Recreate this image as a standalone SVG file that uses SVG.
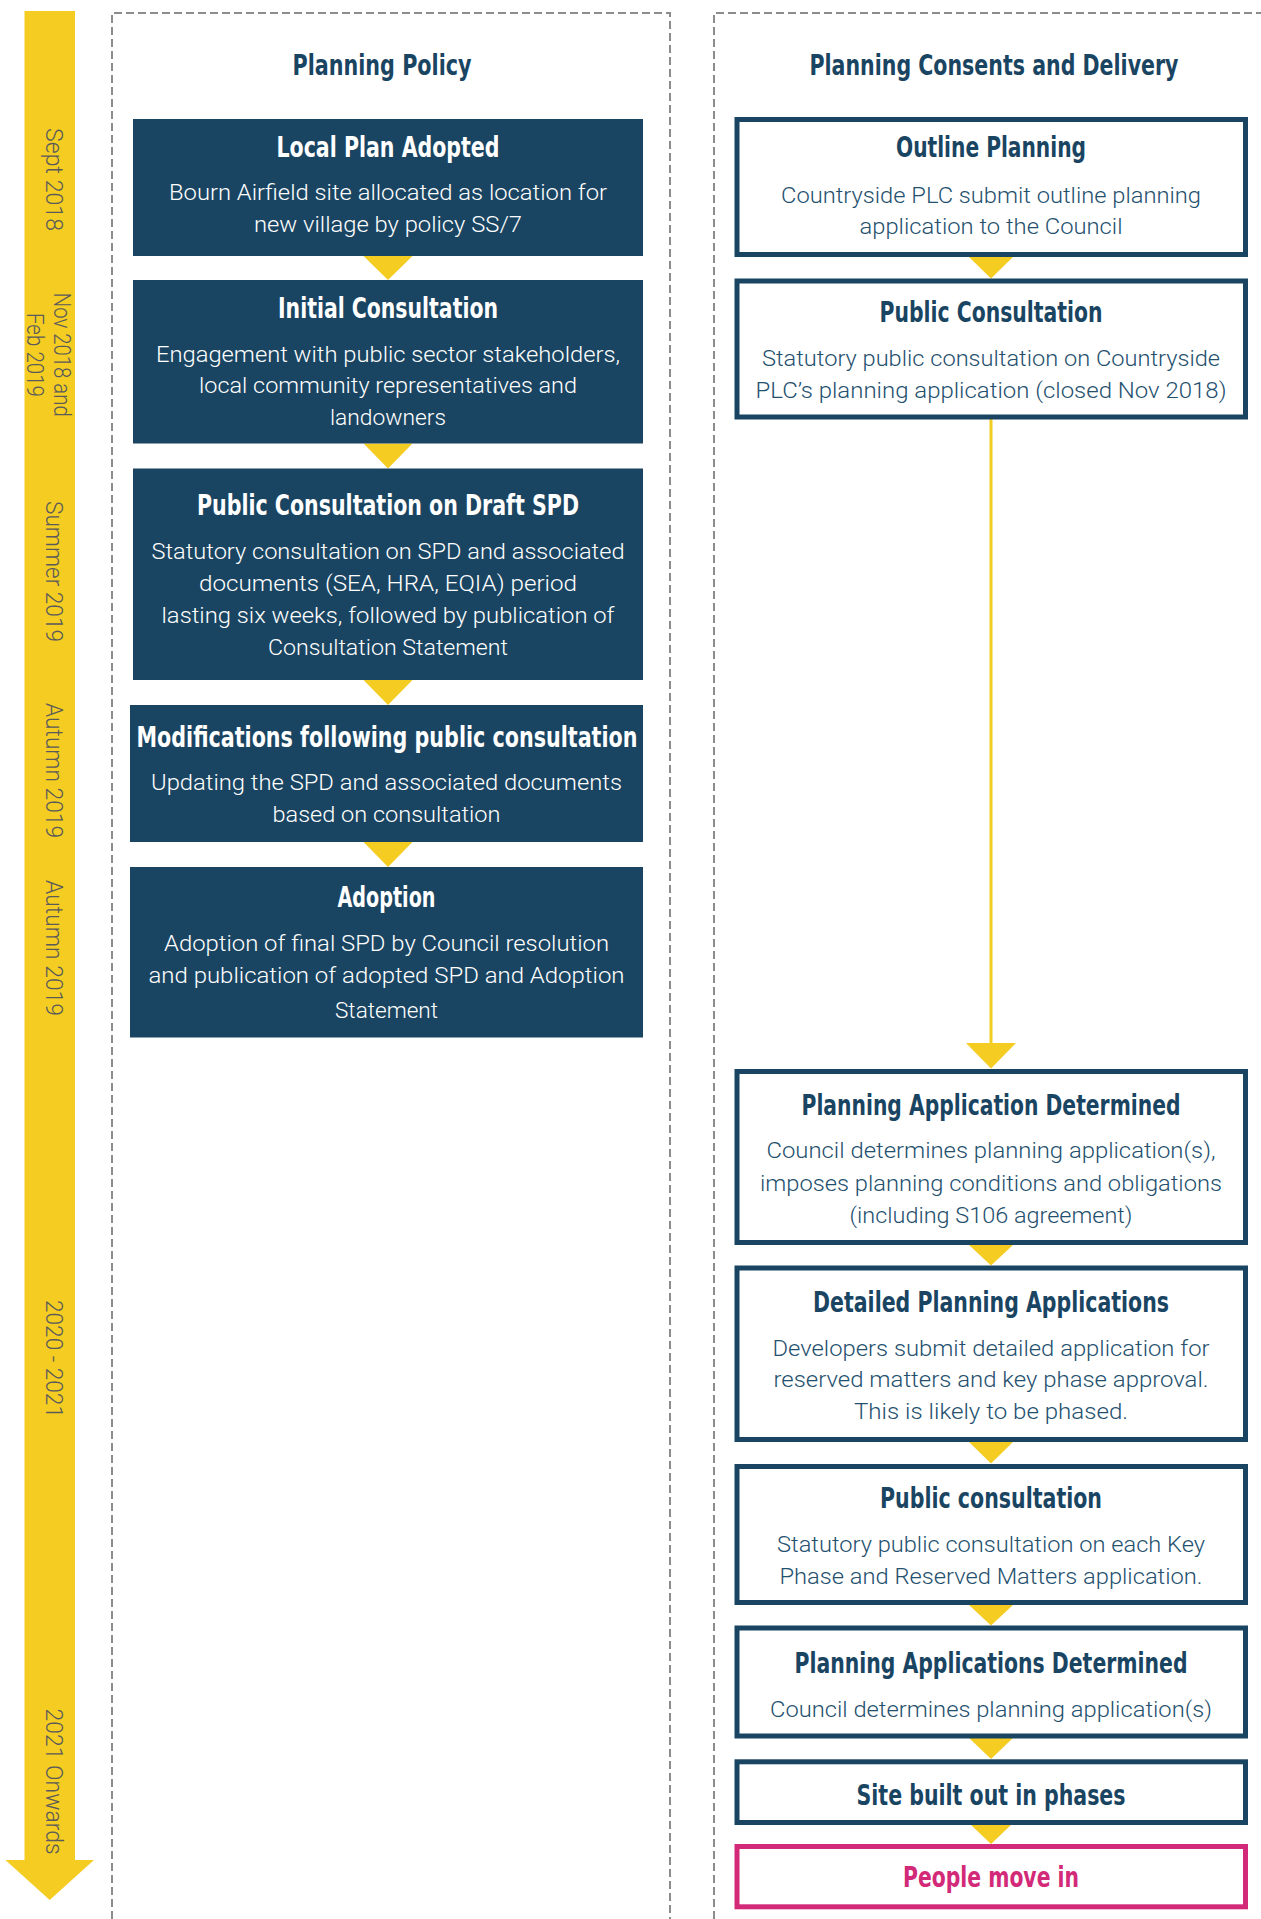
<svg xmlns="http://www.w3.org/2000/svg" width="1261" height="1919" viewBox="0 0 1261 1919">
<style>
.ttl{font-family:"DejaVu Sans Condensed","DejaVu Sans","Liberation Sans",sans-serif;font-stretch:condensed;font-weight:bold;font-size:29px;text-anchor:middle}
.bd{font-family:Roboto,"Liberation Sans",sans-serif;font-weight:300;font-size:22.5px;text-anchor:middle}
.tl{font-family:Roboto,"Liberation Sans",sans-serif;font-weight:300;font-size:23px;fill:#5a5a5a}
.w{fill:#ffffff}
.b{fill:#1a4562}
.bb{fill:#24506e}
.pk{fill:#d22a78}
.fbox{fill:#1a4562}
.obox{fill:#ffffff;stroke:#1a4562;stroke-width:5}
.pbox{fill:#ffffff;stroke:#d22a78;stroke-width:5}
.tri{fill:#f5cd22}
.dash{fill:none;stroke:#8c8c8c;stroke-width:2;stroke-dasharray:8 4}
</style>
<rect width="1261" height="1919" fill="#ffffff"/>

<g id="timeline">
  <path d="M24.5,11 H75 V1860 H94 L49.7,1900 L5.4,1860 H24.5 Z" fill="#f5cd22"/>
  <text class="tl" transform="translate(46,128) rotate(90)" textLength="103" lengthAdjust="spacingAndGlyphs">Sept 2018</text>
  <text class="tl" transform="translate(54,292.7) rotate(90)" textLength="124" lengthAdjust="spacingAndGlyphs">Nov 2018 and</text>
  <text class="tl" transform="translate(27,313) rotate(90)" textLength="84" lengthAdjust="spacingAndGlyphs">Feb 2019</text>
  <text class="tl" transform="translate(46,501) rotate(90)" textLength="141" lengthAdjust="spacingAndGlyphs">Summer 2019</text>
  <text class="tl" transform="translate(46,703) rotate(90)" textLength="135" lengthAdjust="spacingAndGlyphs">Autumn 2019</text>
  <text class="tl" transform="translate(46,880) rotate(90)" textLength="136" lengthAdjust="spacingAndGlyphs">Autumn 2019</text>
  <text class="tl" transform="translate(46,1300) rotate(90)" textLength="118" lengthAdjust="spacingAndGlyphs">2020 - 2021</text>
  <text class="tl" transform="translate(46,1708.6) rotate(90)" textLength="146" lengthAdjust="spacingAndGlyphs">2021 Onwards</text>
</g>

<g id="col-policy">
  <path class="dash" d="M112,1919 V13 H670 V1919"/>
  <text class="ttl b" transform="matrix(0.62 0 0 1 382 75)" textLength="288.7" lengthAdjust="spacingAndGlyphs">Planning Policy</text>
</g>
<g id="col-consents">
  <path class="dash" d="M714,1919 V13 H1261"/>
  <text class="ttl b" transform="matrix(0.62 0 0 1 994 75)" textLength="595.2" lengthAdjust="spacingAndGlyphs">Planning Consents and Delivery</text>
</g>

<g id="connectors">
  <polygon class="tri" points="363.5,256 412.5,256 388,280"/>
  <polygon class="tri" points="363.5,443.5 412.5,443.5 388,468.5"/>
  <polygon class="tri" points="363.5,680 412.5,680 388,705"/>
  <polygon class="tri" points="363.5,842 412.5,842 388,867"/>
  <polygon class="tri" points="969,257 1013,257 991,278.5"/>
  <line x1="991" y1="419" x2="991" y2="1045" stroke="#f5cd22" stroke-width="3"/>
  <polygon class="tri" points="966,1043 1016,1043 991,1068.5"/>
  <polygon class="tri" points="969,1245 1013,1245 991,1265.5"/>
  <polygon class="tri" points="969,1442 1013,1442 991,1463.5"/>
  <polygon class="tri" points="969,1605 1013,1605 991,1625.5"/>
  <polygon class="tri" points="969,1738 1013,1738 991,1759"/>
  <polygon class="tri" points="971,1825 1011,1825 991,1844"/>
</g>

<g id="local-plan-adopted">
  <rect class="fbox" x="133" y="119" width="510" height="137"/>
  <text class="ttl w" transform="matrix(0.62 0 0 1 388 157)" textLength="359.7" lengthAdjust="spacingAndGlyphs">Local Plan Adopted</text>
  <text class="bd w" transform="matrix(0.85 0 0 1 388 200)" textLength="515.3" lengthAdjust="spacingAndGlyphs">Bourn Airfield site allocated as location for</text>
  <text class="bd w" transform="matrix(0.85 0 0 1 388 231.7)" textLength="315.3" lengthAdjust="spacingAndGlyphs">new village by policy SS/7</text>
</g>

<g id="initial-consultation">
  <rect class="fbox" x="133" y="280" width="510" height="163.5"/>
  <text class="ttl w" transform="matrix(0.62 0 0 1 388 318.3)" textLength="354.8" lengthAdjust="spacingAndGlyphs">Initial Consultation</text>
  <text class="bd w" transform="matrix(0.85 0 0 1 388 361.7)" textLength="545.9" lengthAdjust="spacingAndGlyphs">Engagement with public sector stakeholders,</text>
  <text class="bd w" transform="matrix(0.85 0 0 1 388 393.3)" textLength="444.7" lengthAdjust="spacingAndGlyphs">local community representatives and</text>
  <text class="bd w" transform="matrix(0.85 0 0 1 388 425)" textLength="136.5" lengthAdjust="spacingAndGlyphs">landowners</text>
</g>

<g id="draft-spd-consultation">
  <rect class="fbox" x="133" y="468.5" width="510" height="211.5"/>
  <text class="ttl w" transform="matrix(0.62 0 0 1 388 515.4)" textLength="616.1" lengthAdjust="spacingAndGlyphs">Public Consultation on Draft SPD</text>
  <text class="bd w" transform="matrix(0.85 0 0 1 388 558.6)" textLength="556.5" lengthAdjust="spacingAndGlyphs">Statutory consultation on SPD and associated</text>
  <text class="bd w" transform="matrix(0.85 0 0 1 388 590.5)" textLength="444.7" lengthAdjust="spacingAndGlyphs">documents (SEA, HRA, EQIA) period</text>
  <text class="bd w" transform="matrix(0.85 0 0 1 388 622.6)" textLength="532.9" lengthAdjust="spacingAndGlyphs">lasting six weeks, followed by publication of</text>
  <text class="bd w" transform="matrix(0.85 0 0 1 388 654.6)" textLength="282.4" lengthAdjust="spacingAndGlyphs">Consultation Statement</text>
</g>

<g id="modifications">
  <rect class="fbox" x="130" y="705" width="513" height="137"/>
  <text class="ttl w" transform="matrix(0.62 0 0 1 387 747.3)" textLength="808.1" lengthAdjust="spacingAndGlyphs">Modifications following public consultation</text>
  <text class="bd w" transform="matrix(0.85 0 0 1 386.5 790.2)" textLength="554.1" lengthAdjust="spacingAndGlyphs">Updating the SPD and associated documents</text>
  <text class="bd w" transform="matrix(0.85 0 0 1 386.5 822.4)" textLength="268.2" lengthAdjust="spacingAndGlyphs">based on consultation</text>
</g>

<g id="adoption">
  <rect class="fbox" x="130" y="867" width="513" height="170.5"/>
  <text class="ttl w" transform="matrix(0.62 0 0 1 386.5 907)" textLength="158.1" lengthAdjust="spacingAndGlyphs">Adoption</text>
  <text class="bd w" transform="matrix(0.85 0 0 1 386.5 951)" textLength="523.5" lengthAdjust="spacingAndGlyphs">Adoption of final SPD by Council resolution</text>
  <text class="bd w" transform="matrix(0.85 0 0 1 386.5 982.7)" textLength="560" lengthAdjust="spacingAndGlyphs">and publication of adopted SPD and Adoption</text>
  <text class="bd w" transform="matrix(0.85 0 0 1 386.5 1017.9)" textLength="121.2" lengthAdjust="spacingAndGlyphs">Statement</text>
</g>

<g id="outline-planning">
  <rect class="obox" x="737" y="119.5" width="508.5" height="135"/>
  <text class="ttl b" transform="matrix(0.62 0 0 1 991 156.7)" textLength="306.5" lengthAdjust="spacingAndGlyphs">Outline Planning</text>
  <text class="bd bb" transform="matrix(0.85 0 0 1 991 202.7)" textLength="494.1" lengthAdjust="spacingAndGlyphs">Countryside PLC submit outline planning</text>
  <text class="bd bb" transform="matrix(0.85 0 0 1 991 234.3)" textLength="309.4" lengthAdjust="spacingAndGlyphs">application to the Council</text>
</g>

<g id="public-consultation-1">
  <rect class="obox" x="737" y="281" width="508.5" height="136"/>
  <text class="ttl b" transform="matrix(0.62 0 0 1 991 321.7)" textLength="359.7" lengthAdjust="spacingAndGlyphs">Public Consultation</text>
  <text class="bd bb" transform="matrix(0.85 0 0 1 991 365.7)" textLength="538.8" lengthAdjust="spacingAndGlyphs">Statutory public consultation on Countryside</text>
  <text class="bd bb" transform="matrix(0.85 0 0 1 991 397.7)" textLength="554.1" lengthAdjust="spacingAndGlyphs">PLC’s planning application (closed Nov 2018)</text>
</g>

<g id="application-determined">
  <rect class="obox" x="737" y="1071.5" width="508.5" height="171"/>
  <text class="ttl b" transform="matrix(0.62 0 0 1 991 1115)" textLength="611.3" lengthAdjust="spacingAndGlyphs">Planning Application Determined</text>
  <text class="bd bb" transform="matrix(0.85 0 0 1 991 1158.3)" textLength="528.2" lengthAdjust="spacingAndGlyphs">Council determines planning application(s),</text>
  <text class="bd bb" transform="matrix(0.85 0 0 1 991 1190.7)" textLength="543.5" lengthAdjust="spacingAndGlyphs">imposes planning conditions and obligations</text>
  <text class="bd bb" transform="matrix(0.85 0 0 1 991 1222.7)" textLength="332.9" lengthAdjust="spacingAndGlyphs">(including S106 agreement)</text>
</g>

<g id="detailed-applications">
  <rect class="obox" x="737" y="1268" width="508.5" height="171.5"/>
  <text class="ttl b" transform="matrix(0.62 0 0 1 991 1311.7)" textLength="574.2" lengthAdjust="spacingAndGlyphs">Detailed Planning Applications</text>
  <text class="bd bb" transform="matrix(0.85 0 0 1 991 1355.7)" textLength="514.1" lengthAdjust="spacingAndGlyphs">Developers submit detailed application for</text>
  <text class="bd bb" transform="matrix(0.85 0 0 1 991 1387.3)" textLength="511.8" lengthAdjust="spacingAndGlyphs">reserved matters and key phase approval.</text>
  <text class="bd bb" transform="matrix(0.85 0 0 1 991 1419.3)" textLength="322.4" lengthAdjust="spacingAndGlyphs">This is likely to be phased.</text>
</g>

<g id="public-consultation-2">
  <rect class="obox" x="737" y="1466.5" width="508.5" height="136"/>
  <text class="ttl b" transform="matrix(0.62 0 0 1 991 1508.3)" textLength="358.1" lengthAdjust="spacingAndGlyphs">Public consultation</text>
  <text class="bd bb" transform="matrix(0.85 0 0 1 991 1551.7)" textLength="503.5" lengthAdjust="spacingAndGlyphs">Statutory public consultation on each Key</text>
  <text class="bd bb" transform="matrix(0.85 0 0 1 991 1584)" textLength="497.6" lengthAdjust="spacingAndGlyphs">Phase and Reserved Matters application.</text>
</g>

<g id="applications-determined">
  <rect class="obox" x="737" y="1628" width="508.5" height="108"/>
  <text class="ttl b" transform="matrix(0.62 0 0 1 991 1673.3)" textLength="633.9" lengthAdjust="spacingAndGlyphs">Planning Applications Determined</text>
  <text class="bd bb" transform="matrix(0.85 0 0 1 991 1716.7)" textLength="520" lengthAdjust="spacingAndGlyphs">Council determines planning application(s)</text>
</g>

<g id="site-built-out">
  <rect class="obox" x="737" y="1761.8" width="508.5" height="60.7"/>
  <text class="ttl b" transform="matrix(0.62 0 0 1 991 1805)" textLength="433.9" lengthAdjust="spacingAndGlyphs">Site built out in phases</text>
</g>

<g id="people-move-in">
  <rect class="pbox" x="737" y="1846.5" width="508.5" height="60.3"/>
  <text class="ttl pk" transform="matrix(0.62 0 0 1 991 1887.3)" textLength="283.9" lengthAdjust="spacingAndGlyphs">People move in</text>
</g>
</svg>
